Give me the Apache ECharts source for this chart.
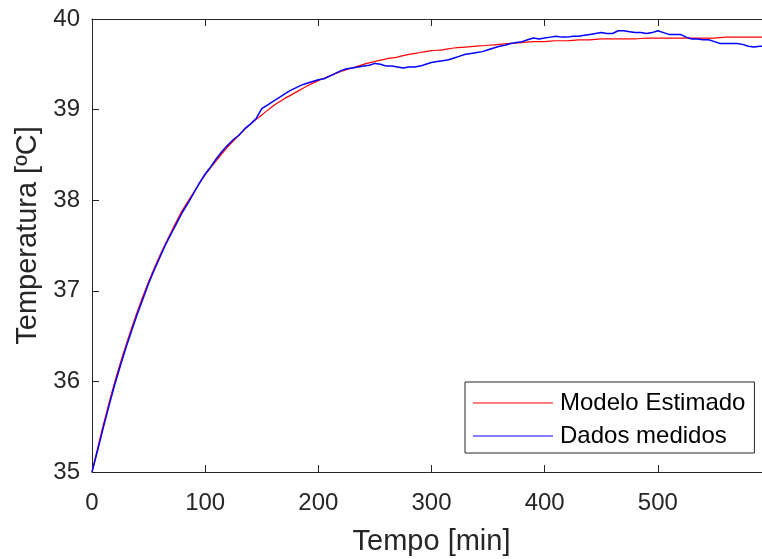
<!DOCTYPE html>
<html>

<head>
    <meta charset="utf-8">
    <title>Temperatura x Tempo</title>
    <script src="https://cdn.jsdelivr.net/npm/echarts@6/dist/echarts.min.js"></script>
    <style>
        body { margin: 0; background: #fff; }
    </style>
</head>

<body>
    <div id="main" style="width: 762px;height:559px;"></div>
    <script type="text/javascript">
        // modelo estimado (a cada 10 min)
        var tempoModelo = [0, 10, 20, 30, 40, 50, 60, 70, 80, 90, 100, 110, 120, 130, 140, 150, 160, 170, 180, 190,
            200, 210, 220, 230, 240, 250, 260, 270, 280, 290, 300, 310, 320, 330, 340, 350, 360, 370, 380, 390,
            400, 410, 420, 430, 440, 450, 460, 470, 480, 490, 500, 510, 520, 530, 540, 550, 560, 570, 580, 590, 600];
        var tempModelo = [35.00, 35.52, 35.99, 36.40, 36.77, 37.10, 37.39, 37.65, 37.89, 38.09, 38.28, 38.44, 38.59, 38.72, 38.84, 38.94, 39.04, 39.12, 39.19, 39.26,
            39.32, 39.37, 39.42, 39.46, 39.50, 39.53, 39.56, 39.58, 39.61, 39.63, 39.65, 39.66, 39.68, 39.69, 39.70, 39.71, 39.72, 39.73, 39.74, 39.75,
            39.75, 39.76, 39.76, 39.77, 39.77, 39.78, 39.78, 39.78, 39.78, 39.79, 39.79, 39.79, 39.79, 39.79, 39.79, 39.79, 39.80, 39.80, 39.80, 39.80, 39.80];

        // dados medidos (a cada 5 min)
        var tempoMedido = [0, 5, 10, 15, 20, 25, 30, 35, 40, 45, 50, 55, 60, 65, 70, 75, 80, 85, 90, 95,
            100, 105, 110, 115, 120, 125, 130, 135, 140, 145, 150, 155, 160, 165, 170, 175, 180, 185, 190, 195,
            200, 205, 210, 215, 220, 225, 230, 235, 240, 245, 250, 255, 260, 265, 270, 275, 280, 285, 290, 295,
            300, 305, 310, 315, 320, 325, 330, 335, 340, 345, 350, 355, 360, 365, 370, 375, 380, 385, 390, 395,
            400, 405, 410, 415, 420, 425, 430, 435, 440, 445, 450, 455, 460, 465, 470, 475, 480, 485, 490, 495,
            500, 505, 510, 515, 520, 525, 530, 535, 540, 545, 550, 555, 560, 565, 570, 575, 580, 585, 590, 595];
        var tempMedido = [35.00, 35.24, 35.49, 35.73, 35.96, 36.17, 36.37, 36.56, 36.74, 36.91, 37.08, 37.23, 37.37, 37.51, 37.63, 37.75, 37.87, 37.97, 38.08, 38.19,
            38.29, 38.37, 38.46, 38.54, 38.61, 38.67, 38.72, 38.79, 38.84, 38.90, 39.01, 39.05, 39.09, 39.13, 39.17, 39.21, 39.24, 39.27, 39.29, 39.31,
            39.33, 39.34, 39.37, 39.40, 39.43, 39.45, 39.46, 39.47, 39.48, 39.49, 39.51, 39.50, 39.48, 39.48, 39.47, 39.46, 39.47, 39.47, 39.48, 39.50,
            39.52, 39.53, 39.54, 39.55, 39.57, 39.59, 39.61, 39.62, 39.63, 39.64, 39.66, 39.68, 39.70, 39.71, 39.73, 39.74, 39.75, 39.77, 39.79, 39.78,
            39.79, 39.80, 39.81, 39.80, 39.80, 39.81, 39.81, 39.82, 39.83, 39.84, 39.85, 39.84, 39.84, 39.87, 39.87, 39.86, 39.85, 39.85, 39.84, 39.85,
            39.87, 39.85, 39.83, 39.83, 39.83, 39.80, 39.78, 39.78, 39.77, 39.77, 39.75, 39.73, 39.73, 39.73, 39.73, 39.72, 39.70, 39.69, 39.70, 39.70];

        // o rótulo 600 fica fora da figura (borda direita cortada)
        var ticksX = [0, 100, 200, 300, 400, 500];
        var ticksY = [35, 36, 37, 38, 39, 40];

        function pares(xs, ys) {
            return xs.map(function(x, i) { return [x, ys[i]]; });
        }

        var cor = '#262626';
        var fonte = 'Liberation Sans, Arial, sans-serif';

        var myChart = echarts.init(document.getElementById('main'));

        option = {
            animation: false,
            backgroundColor: '#fff',
            // o eixo vai até 600, mas a figura corta a borda direita
            grid: {
                left: 92,
                right: -9,
                top: 19,
                bottom: 87,
                containLabel: false,
                outerBoundsMode: 'none'
            },
            legend: {
                orient: 'vertical',
                left: 465,
                top: 382,
                data: ['Modelo Estimado', 'Dados medidos'],
                icon: 'rect',
                itemWidth: 80,
                itemHeight: 1.2,
                itemGap: 9,
                padding: [9, 9, 5, 8],
                borderColor: cor,
                borderWidth: 1,
                backgroundColor: '#fff',
                textStyle: {
                    fontFamily: fonte,
                    fontSize: 24,
                    lineHeight: 24,
                    color: '#000',
                    padding: [0, 0, 0, 2]
                }
            },
            xAxis: [{
                type: 'value',
                min: 0,
                max: 600,
                interval: 100,
                name: 'Tempo [min]',
                nameLocation: 'middle',
                nameGap: 55,
                nameTextStyle: { fontFamily: fonte, fontSize: 29, color: cor },
                axisLine: { lineStyle: { color: cor, width: 1 } },
                axisTick: { inside: true, length: 7, lineStyle: { color: cor } },
                axisLabel: {
                    fontFamily: fonte, fontSize: 24, color: cor, margin: 19,
                    formatter: function(v) { return ticksX.indexOf(v) >= 0 ? v : ''; }
                },
                splitLine: { show: false }
            }, {
                type: 'value',
                position: 'top',
                min: 0,
                max: 600,
                interval: 100,
                axisLine: { lineStyle: { color: cor, width: 1 } },
                axisTick: { inside: true, length: 7, lineStyle: { color: cor } },
                axisLabel: { show: false },
                splitLine: { show: false }
            }],
            yAxis: {
                type: 'value',
                min: 35,
                max: 40,
                interval: 1,
                name: 'Temperatura [ºC]',
                nameLocation: 'middle',
                nameGap: 49,
                nameTextStyle: { fontFamily: fonte, fontSize: 29, color: cor, padding: [0, 0, 0, 20] },
                axisLine: { show: true, lineStyle: { color: cor, width: 1 } },
                axisTick: { show: true, inside: true, length: 7, lineStyle: { color: cor } },
                axisLabel: {
                    fontFamily: fonte, fontSize: 24, color: cor, margin: 12,
                    formatter: function(v) { return ticksY.indexOf(v) >= 0 ? v : ''; }
                },
                splitLine: { show: false }
            },
            series: [{
                name: 'Modelo Estimado',
                type: 'line',
                data: pares(tempoModelo, tempModelo),
                smooth: 0.3,
                showSymbol: false,
                color: '#ff0000',
                lineStyle: { width: 1.2, color: '#ff0000' }
            }, {
                name: 'Dados medidos',
                type: 'line',
                data: pares(tempoMedido, tempMedido),
                showSymbol: false,
                color: '#0000ff',
                lineStyle: { width: 1.5, color: '#0000ff' }
            }]
        };

        myChart.setOption(option);
    </script>
</body>

</html>
